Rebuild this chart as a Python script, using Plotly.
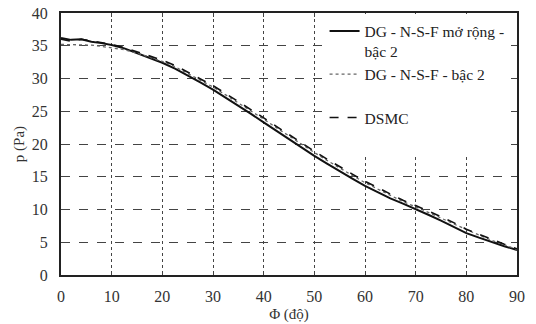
import plotly.graph_objects as go

phi = [0, 2, 4, 6, 8, 10, 12.5, 15, 17.5, 20, 22.5, 25, 27.5, 30, 32.5, 35, 37.5, 40,
       42.5, 45, 47.5, 50, 52.5, 55, 57.5, 60, 62.5, 65, 67.5, 70, 72.5, 75, 77.5, 80,
       82.5, 85, 87.5, 90]

p_ext = [36.2, 35.9, 36.0, 35.6, 35.4, 35.1, 34.6, 33.9, 33.2, 32.4, 31.5, 30.5, 29.4, 28.3,
         27.1, 25.9, 24.6, 23.3, 22.0, 20.7, 19.4, 18.2, 17.0, 15.8, 14.7, 13.6, 12.6, 11.7,
         10.9, 10.1, 9.2, 8.3, 7.3, 6.4, 5.7, 5.0, 4.4, 3.8]

p_nsf = [35.2, 35.2, 35.2, 35.1, 34.9, 34.7, 34.4, 33.9, 33.3, 32.6, 31.8, 30.8, 29.8, 28.7,
         27.5, 26.3, 25.0, 23.8, 22.5, 21.2, 19.9, 18.7, 17.5, 16.3, 15.2, 14.1, 13.1, 12.1,
         11.2, 10.4, 9.6, 8.7, 7.8, 6.9, 6.1, 5.3, 4.6, 3.9]

p_dsmc = [36.0, 35.7, 36.0, 35.7, 35.4, 35.2, 34.7, 34.1, 33.5, 32.8, 32.0, 31.0, 30.0, 28.9,
          27.7, 26.5, 25.2, 24.0, 22.7, 21.4, 20.1, 18.9, 17.7, 16.5, 15.4, 14.3, 13.3, 12.3,
          11.4, 10.6, 9.8, 8.9, 8.0, 7.0, 6.2, 5.4, 4.7, 4.0]

x_ticks = [0, 10, 20, 30, 40, 50, 60, 70, 80, 90]
y_ticks = [0, 5, 10, 15, 20, 25, 30, 35, 40]

FONT = "Liberation Serif"

fig = go.Figure()
fig.add_trace(go.Scatter(x=phi, y=p_ext, mode="lines", name="DG - N-S-F mở rộng -<br>bậc 2",
                         line=dict(color="#111111", width=2), legendgroup="a"))
fig.add_trace(go.Scatter(x=phi, y=p_nsf, mode="lines", name="DG - N-S-F - bậc 2<br> ",
                         line=dict(color="#666666", width=1.3, dash="dot"), legendgroup="b"))
fig.add_trace(go.Scatter(x=phi, y=p_dsmc, mode="lines", name="DSMC<br> ",
                         line=dict(color="#111111", width=1.6, dash="dash"), legendgroup="c"))

fig.update_layout(
    width=536, height=324,
    margin=dict(l=61, r=19, t=13, b=49),
    paper_bgcolor="white", plot_bgcolor="white",
    font=dict(family=FONT, size=16, color="#333333"),
    showlegend=True,
    legend=dict(x=0.578, y=0.995, xanchor="left", yanchor="top",
                bgcolor="white", borderwidth=0,
                font=dict(family=FONT, size=15.5, color="#222222"),
                traceorder="grouped", tracegroupgap=0, valign="top",
                itemwidth=30),
    xaxis=dict(range=[0, 90], tickvals=x_ticks, ticktext=[str(v) for v in x_ticks],
               showgrid=True, gridcolor="#444444", griddash="dot", gridwidth=1,
               showline=True, linecolor="#222222", linewidth=2, mirror="ticks",
               ticks="inside", ticklen=4, tickcolor="#444444",
               zeroline=False, automargin=False, ticklabeloverflow="allow",
               title=dict(text="Φ (độ)", standoff=4, font=dict(size=15)),
               ticklabelstandoff=6),
    yaxis=dict(range=[0, 40], tickvals=y_ticks, ticktext=[str(v) for v in y_ticks],
               showgrid=True, gridcolor="#444444", griddash="dash", gridwidth=1,
               showline=True, linecolor="#222222", linewidth=2, mirror="ticks",
               ticks="inside", ticklen=4, tickcolor="#444444",
               zeroline=False, automargin=False, ticklabeloverflow="allow",
               title=dict(text="p (Pa)", standoff=4, font=dict(size=15)),
               ticklabelstandoff=8),
)

# Remove the default page margin so the 536x324 figure fills the window exactly.
fig.write_html("out.html",
               config={"displayModeBar": False},
               post_script="document.body.style.margin='0';document.body.style.overflow='hidden';")
